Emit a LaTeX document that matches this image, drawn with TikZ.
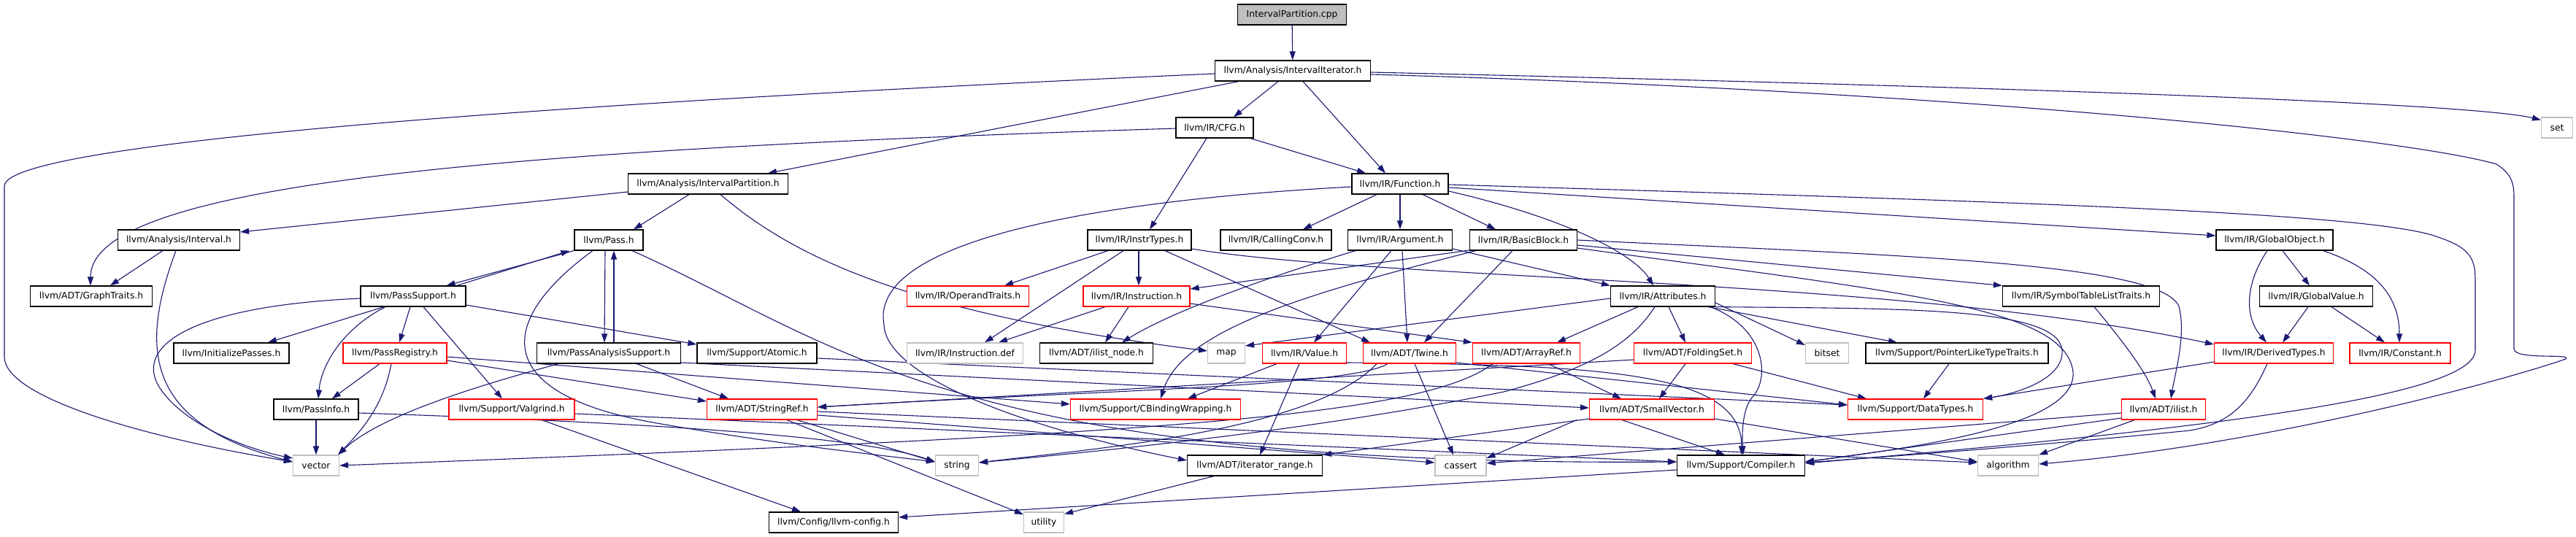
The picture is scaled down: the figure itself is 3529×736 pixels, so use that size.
\documentclass[tikz,border=0pt]{standalone}
\usepackage{fontspec}
\setmainfont{DejaVu Sans}
\usetikzlibrary{arrows.meta,calc}
\definecolor{eblue}{HTML}{191970}
\definecolor{gsev}{HTML}{BFBFBF}
\pgfdeclarelayer{bg}
\pgfsetlayers{bg,main}
\begin{document}
\begin{tikzpicture}[x=1pt,y=-1pt,
 box/.style={draw=black,line width=1.2pt,fill=white,minimum height=28pt,inner sep=0pt,font=\fontsize{12.3}{14}\selectfont},
 rbox/.style={box,draw=red},
 gbox/.style={box,draw=gsev},
 rootbox/.style={box,fill=gsev},
 e/.style={draw=eblue,line width=1.1pt,-{Triangle[length=12pt,width=8pt]}}]
\useasboundingbox (0,0) rectangle (3529,736);
% nodes
\node[rootbox,minimum width=149pt] (cpp) at (1770,20) {IntervalPartition.cpp};
\node[box,minimum width=213pt] (II) at (1771,97) {llvm/Analysis/IntervalIterator.h};
\node[gbox,minimum width=43pt] (set) at (3503,175) {set};
\node[box,minimum width=106pt] (CFG) at (1664,175) {llvm/IR/CFG.h};
\node[box,minimum width=219pt] (IP) at (970,252) {llvm/Analysis/IntervalPartition.h};
\node[box,minimum width=132pt] (Func) at (1918,252) {llvm/IR/Function.h};
\node[box,minimum width=167pt] (Interval) at (245,329) {llvm/Analysis/Interval.h};
\node[box,minimum width=94pt] (Pass) at (834,329) {llvm/Pass.h};
\node[box,minimum width=142pt] (InstrTypes) at (1561,329) {llvm/IR/InstrTypes.h};
\node[box,minimum width=152pt] (CallingConv) at (1748,329) {llvm/IR/CallingConv.h};
\node[box,minimum width=143pt] (Argument) at (1918,329) {llvm/IR/Argument.h};
\node[box,minimum width=147pt] (BasicBlock) at (2087,329) {llvm/IR/BasicBlock.h};
\node[box,minimum width=160pt] (GlobalObject) at (3116,329) {llvm/IR/GlobalObject.h};
\node[box,minimum width=167pt] (GraphTraits) at (125,406) {llvm/ADT/GraphTraits.h};
\node[box,minimum width=144pt] (PassSupport) at (566,406) {llvm/PassSupport.h};
\node[rbox,minimum width=167pt] (OperandTraits) at (1326,406) {llvm/IR/OperandTraits.h};
\node[rbox,minimum width=146pt] (Instruction) at (1557,406) {llvm/IR/Instruction.h};
\node[box,minimum width=143pt] (Attributes) at (2278,406) {llvm/IR/Attributes.h};
\node[box,minimum width=215pt] (SymTab) at (2851,406) {llvm/IR/SymbolTableListTraits.h};
\node[box,minimum width=155pt] (GlobalValue) at (3173,406) {llvm/IR/GlobalValue.h};
\node[box,minimum width=158pt] (InitPasses) at (317,484) {llvm/InitializePasses.h};
\node[rbox,minimum width=142pt] (PassRegistry) at (541,484) {llvm/PassRegistry.h};
\node[box,minimum width=197pt] (PAS) at (834,484) {llvm/PassAnalysisSupport.h};
\node[box,minimum width=164pt] (Atomic) at (1037,484) {llvm/Support/Atomic.h};
\node[gbox,minimum width=159pt] (InstrDef) at (1322,484) {llvm/IR/Instruction.def};
\node[box,minimum width=155pt] (ilistnode) at (1502,484) {llvm/ADT/ilist\_node.h};
\node[gbox,minimum width=51pt] (map) at (1680,484) {map};
\node[rbox,minimum width=115pt] (Value) at (1787,484) {llvm/IR/Value.h};
\node[rbox,minimum width=127pt] (Twine) at (1931,484) {llvm/ADT/Twine.h};
\node[rbox,minimum width=147pt] (ArrayRef) at (2091,484) {llvm/ADT/ArrayRef.h};
\node[rbox,minimum width=161pt] (FoldingSet) at (2319,484) {llvm/ADT/FoldingSet.h};
\node[gbox,minimum width=59pt] (bitset) at (2503,484) {bitset};
\node[box,minimum width=250pt] (PLTT) at (2681,484) {llvm/Support/PointerLikeTypeTraits.h};
\node[rbox,minimum width=163pt] (DerivedTypes) at (3115,484) {llvm/IR/DerivedTypes.h};
\node[rbox,minimum width=138pt] (Constant) at (3288,484) {llvm/IR/Constant.h};
\node[box,minimum width=116pt] (PassInfo) at (433,561) {llvm/PassInfo.h};
\node[rbox,minimum width=172pt] (Valgrind) at (701,561) {llvm/Support/Valgrind.h};
\node[rbox,minimum width=151pt] (StringRef) at (1044,561) {llvm/ADT/StringRef.h};
\node[rbox,minimum width=233pt] (CBW) at (1583,561) {llvm/Support/CBindingWrapping.h};
\node[rbox,minimum width=171pt] (SmallVector) at (2263,561) {llvm/ADT/SmallVector.h};
\node[rbox,minimum width=185pt] (DataTypes) at (2624,561) {llvm/Support/DataTypes.h};
\node[rbox,minimum width=115pt] (ilist) at (2964,561) {llvm/ADT/ilist.h};
\node[gbox,minimum width=63pt] (vector) at (433,638) {vector};
\node[gbox,minimum width=59pt] (string) at (1311,638) {string};
\node[box,minimum width=185pt] (itrange) at (1719,638) {llvm/ADT/iterator\_range.h};
\node[gbox,minimum width=70pt] (cassert) at (2001,638) {cassert};
\node[box,minimum width=175pt] (Compiler) at (2385,638) {llvm/Support/Compiler.h};
\node[gbox,minimum width=83pt] (algorithm) at (2751,638) {algorithm};
\node[box,minimum width=177pt] (config) at (1142,716) {llvm/Config/llvm-config.h};
\node[gbox,minimum width=55pt] (utility) at (1430,716) {utility};
% edges
\begin{pgfonlayer}{bg}
\draw[e] (cpp) -- (II);
\draw[e] ($(II.south)+(-74,0)$) -- ($(IP.north)+(82,0)$);
\draw[e] ($(II.south)+(-20,0)$) -- ($(CFG.north)+(26,0)$);
\draw[e] ($(II.south)+(14,0)$) -- ($(Func.north)+(-20,0)$);
\draw[e] ($(II.east)+(0,2)$) .. controls (2700,118) and (3380,140) .. ($(set.north west)+(0,4)$);
\draw[e] ($(II.west)+(0,4)$) .. controls (900,135) and (6,190) .. (6,255) -- (6,489) .. controls (6,545) and (200,600) .. ($(vector.west)+(0,-5)$);
\draw[e] ($(II.east)+(0,5)$) .. controls (2700,125) and (3300,190) .. (3420,225) .. controls (3440,238) and (3444,250) .. (3444,270) -- (3444,478) .. controls (3444,494) and (3525,484) .. (3515,492) .. controls (3420,525) and (3100,610) .. ($(algorithm.east)+(0,-2)$);
\draw[e] ($(IP.west)+(0,11)$) -- ($(Interval.east)+(0,-11)$);
\draw[e] ($(IP.south)+(-26,0)$) -- ($(Pass.north)+(34,0)$);
\draw[e] ($(IP.south)+(17,0)$) .. controls (1090,355) and (1250,430) .. ($(map.west)+(0,-3)$);
\draw[e] ($(CFG.west)+(0,1)$) .. controls (700,205) and (124,250) .. ($(GraphTraits.north)+(-1,0)$);
\draw[e] ($(CFG.south)+(49,0)$) -- ($(Func.north)+(-47,0)$);
\draw[e] ($(CFG.south)+(-11,0)$) -- ($(InstrTypes.north)+(14,0)$);
\draw[e] ($(Interval.south)+(-22,0)$) -- ($(GraphTraits.north)+(26,0)$);
\draw[e] ($(Interval.south)+(-4,0)$) .. controls (190,480) and (200,580) .. ($(vector.west)+(0,-5)$);
\draw[e] ($(Func.south)+(-32,0)$) -- ($(CallingConv.north)+(37,0)$);
\draw[e] (Func.south) -- (Argument.north);
\draw[e] ($(Func.south)+(31,0)$) -- ($(BasicBlock.north)+(-38,0)$);
\draw[e] ($(Func.east)+(0,10)$) .. controls (2150,300) and (2240,350) .. ($(Attributes.north)+(-13,0)$);
\draw[e] ($(Func.east)+(0,5)$) -- ($(GlobalObject.west)+(0,-6)$);
\draw[e] ($(Func.east)+(0,1)$) .. controls (2700,275) and (3250,290) .. (3340,325) .. controls (3385,340) and (3391,355) .. (3391,385) -- (3391,480) .. controls (3391,545) and (3000,590) .. ($(Compiler.east)+(0,-3)$);
\draw[e] ($(Func.west)+(0,4)$) .. controls (1500,275) and (1190,330) .. (1211,445) .. controls (1214,520) and (1420,590) .. ($(itrange.west)+(0,-7)$);
\draw[e] (Pass.south west) -- ($(PassSupport.north east)+(-27,0)$);
\draw[e] ($(PassSupport.north east)+(-13,0)$) -- ($(Pass.south west)+(-6,0)$);
\draw[e] ($(Pass.south)+(-5,0)$) -- ($(PAS.north)+(-6,0)$);
\draw[e] ($(PAS.north)+(7,0)$) -- ($(Pass.south)+(7,0)$);
\draw[e] ($(Pass.south)+(-22,0)$) .. controls (680,440) and (670,540) .. (900,580) .. controls (1060,608) and (1190,622) .. ($(string.west)+(0,-5)$);
\draw[e] ($(Pass.south)+(32,0)$) .. controls (1150,470) and (1300,640) .. ($(Compiler.west)+(0,-5)$);
\draw[e] ($(PassSupport.west)+(0,3)$) .. controls (250,420) and (175,480) .. (225,540) .. controls (265,590) and (350,618) .. ($(vector.west)+(0,-10)$);
\draw[e] ($(PassSupport.south)+(-40,0)$) -- ($(InitPasses.north)+(50,0)$);
\draw[e] ($(PassSupport.south)+(-38,0)$) .. controls (470,450) and (440,500) .. ($(PassInfo.north)+(3,0)$);
\draw[e] ($(PassSupport.south)+(-4,0)$) -- ($(PassRegistry.north)+(6,0)$);
\draw[e] ($(PassSupport.east)+(0,12)$) -- ($(Atomic.west)+(0,-12)$);
\draw[e] ($(PassSupport.south)+(14,0)$) -- ($(Valgrind.north)+(-13,0)$);
\draw[e] ($(PassRegistry.south)+(-21,0)$) -- ($(PassInfo.north)+(22,0)$);
\draw[e] ($(PassRegistry.south)+(-5,0)$) .. controls (525,560) and (490,595) .. ($(vector.north east)+(-2,0)$);
\draw[e] ($(PassRegistry.east)+(0,10)$) -- ($(StringRef.west)+(0,-11)$);
\draw[e] ($(PassRegistry.east)+(0,5)$) -- ($(CBW.west)+(0,-7)$);
\draw[e] (PassInfo.south) -- (vector.north);
\draw[e] ($(PassInfo.east)+(0,5)$) .. controls (900,580) and (1180,598) .. ($(string.west)+(0,-5)$);
\draw[e] ($(PAS.south)+(-69,0)$) .. controls (650,530) and (520,570) .. ($(vector.north east)+(-2,0)$);
\draw[e] ($(PAS.south)+(38,0)$) -- ($(StringRef.north)+(-46,0)$);
\draw[e] ($(PAS.east)+(0,13)$) -- ($(SmallVector.west)+(0,-2)$);
\draw[e] ($(Atomic.east)+(0,7)$) -- ($(DataTypes.west)+(0,-6)$);
\draw[e] ($(Valgrind.south)+(41,0)$) -- ($(config.north)+(-45,0)$);
\draw[e] ($(Valgrind.east)+(0,6)$) -- ($(Compiler.west)+(0,-5)$);
\draw[e] ($(StringRef.south)+(48,0)$) -- ($(string.west)+(0,-5)$);
\draw[e] ($(StringRef.south)+(34,0)$) -- ($(utility.west)+(0,-11)$);
\draw[e] ($(StringRef.east)+(0,8)$) -- ($(cassert.west)+(0,-4)$);
\draw[e] ($(StringRef.east)+(0,3)$) -- ($(algorithm.west)+(0,-4)$);
\draw[e] ($(Twine.south)+(7,0)$) -- ($(cassert.north)+(-10,0)$);
\draw[e] ($(Twine.south)+(-30,0)$) .. controls (1850,530) and (1500,535) .. ($(StringRef.east)+(0,-3)$);
\draw[e] ($(Twine.south)+(-45,0)$) .. controls (1800,590) and (1500,615) .. ($(string.east)+(0,-4)$);
\draw[e] ($(Twine.east)+(0,13)$) -- ($(DataTypes.west)+(0,-6)$);
\draw[e] ($(Value.south)+(-38,0)$) -- ($(CBW.north)+(44,0)$);
\draw[e] ($(Value.south)+(-7,0)$) -- ($(itrange.north)+(7,0)$);
\draw[e] ($(Value.east)+(0,13)$) .. controls (2200,500) and (2386,510) .. ($(Compiler.north)+(1,0)$);
\draw[e] ($(ArrayRef.south)+(30,0)$) -- ($(SmallVector.north)+(-42,0)$);
\draw[e] ($(ArrayRef.south)+(-46,0)$) .. controls (1950,570) and (1600,595) .. (vector.east);
\draw[e] ($(FoldingSet.south)+(-10,0)$) -- ($(SmallVector.north)+(10,0)$);
\draw[e] ($(FoldingSet.west)+(0,9)$) -- ($(StringRef.east)+(0,-3)$);
\draw[e] ($(FoldingSet.south)+(55,0)$) -- ($(DataTypes.north)+(-67,0)$);
\draw[e] ($(Attributes.south)+(-34,0)$) -- ($(ArrayRef.north)+(42,0)$);
\draw[e] ($(Attributes.south)+(8,0)$) -- ($(FoldingSet.north)+(-10,0)$);
\draw[e] ($(Attributes.west)+(0,3)$) -- ($(map.east)+(0,-10)$);
\draw[e] ($(Attributes.south)+(-11,0)$) .. controls (2235,470) and (2180,505) .. (2060,537) .. controls (1850,580) and (1600,610) .. ($(string.east)+(0,-4)$);
\draw[e] ($(Attributes.east)+(0,9)$) -- ($(bitset.west)+(0,-11)$);
\draw[e] ($(Attributes.south)+(62,0)$) -- ($(PLTT.north)+(-82,0)$);
\draw[e] (Attributes.south east) .. controls (2600,423) and (2820,420) .. (2825,480) .. controls (2828,520) and (2760,540) .. (DataTypes.north east);
\draw[e] ($(Attributes.south east)+(-7,0)$) .. controls (2420,450) and (2425,520) .. (2400,545) .. controls (2388,560) and (2386,590) .. ($(Compiler.north)+(3,0)$);
\draw[e] ($(SmallVector.south)+(-103,0)$) -- ($(cassert.east)+(0,-10)$);
\draw[e] ($(SmallVector.south)+(-41,0)$) -- ($(Compiler.north)+(-22,0)$);
\draw[e] ($(SmallVector.east)+(0,13)$) -- ($(algorithm.west)+(0,-5)$);
\draw[e] ($(SmallVector.west)+(0,13)$) -- (itrange.north east);
\draw[e] ($(PLTT.south)+(-11,0)$) -- ($(DataTypes.north)+(11,0)$);
\draw[e] ($(SymTab.south)+(18,0)$) .. controls (2910,470) and (2940,510) .. ($(ilist.north)+(-11,0)$);
\draw[e] (BasicBlock.east) .. controls (2600,350) and (2960,360) .. (2985,420) .. controls (2995,460) and (2980,510) .. ($(ilist.north)+(10,0)$);
\draw[e] ($(BasicBlock.east)+(0,7)$) -- (SymTab.north west);
\draw[e] ($(BasicBlock.east)+(0,11)$) .. controls (2600,400) and (2830,420) .. (2840,510) .. controls (2845,580) and (2650,610) .. ($(Compiler.east)+(0,-5)$);
\draw[e] ($(BasicBlock.west)+(0,14)$) -- ($(Instruction.east)+(0,-10)$);
\draw[e] ($(BasicBlock.south west)+(9,0)$) .. controls (1800,400) and (1620,450) .. ($(CBW.north)+(7,0)$);
\draw[e] ($(BasicBlock.south)+(-15,0)$) -- ($(Twine.north)+(20,0)$);
\draw[e] ($(Argument.south)+(3,0)$) -- ($(Twine.north)+(-3,0)$);
\draw[e] ($(Argument.south)+(-12,0)$) -- ($(Value.north)+(13,0)$);
\draw[e] ($(Argument.south)+(-61,0)$) .. controls (1720,385) and (1600,430) .. ($(ilistnode.north)+(35,0)$);
\draw[e] ($(Argument.east)+(0,12)$) -- (Attributes.north west);
\draw[e] ($(InstrTypes.south)+(-43,0)$) -- ($(OperandTraits.north)+(50,0)$);
\draw[e] ($(InstrTypes.south)+(-22,0)$) -- ($(InstrDef.north)+(27,0)$);
\draw[e] ($(InstrTypes.south)+(-1,0)$) -- ($(Instruction.north)+(3,0)$);
\draw[e] ($(InstrTypes.south)+(35,0)$) -- ($(Twine.north)+(-54,0)$);
\draw[e] ($(InstrTypes.east)+(0,12)$) .. controls (1900,385) and (2600,380) .. ($(DerivedTypes.west)+(0,-12)$);
\draw[e] ($(Instruction.south)+(-43,0)$) -- ($(InstrDef.north)+(46,0)$);
\draw[e] ($(Instruction.south)+(-11,0)$) -- ($(ilistnode.north)+(12,0)$);
\draw[e] ($(Instruction.east)+(0,10)$) -- (ArrayRef.north west);
\draw[e] ($(GlobalObject.south)+(11,0)$) -- ($(GlobalValue.north)+(-9,0)$);
\draw[e] ($(GlobalObject.south)+(-10,0)$) .. controls (3075,390) and (3075,435) .. ($(DerivedTypes.north)+(-10,0)$);
\draw[e] ($(GlobalObject.south east)+(-14,0)$) .. controls (3260,370) and (3287,410) .. ($(Constant.north)+(-1,0)$);
\draw[e] ($(GlobalValue.south)+(-11,0)$) -- ($(DerivedTypes.north)+(12,0)$);
\draw[e] ($(GlobalValue.south)+(21,0)$) -- ($(Constant.north)+(-21,0)$);
\draw[e] ($(DerivedTypes.west)+(0,12)$) -- (DataTypes.north east);
\draw[e] ($(DerivedTypes.south)+(-9,0)$) .. controls (3085,545) and (3060,580) .. (3000,590) .. controls (2800,610) and (2600,625) .. ($(Compiler.east)+(0,-4)$);
\draw[e] ($(ilist.south)+(-40,0)$) -- (algorithm.north east);
\draw[e] ($(ilist.west)+(0,5)$) -- ($(cassert.east)+(0,-3)$);
\draw[e] ($(ilist.west)+(0,12)$) -- ($(Compiler.east)+(0,-5)$);
\draw[e] ($(itrange.south)+(-56,0)$) -- ($(utility.north east)+(0,3)$);
\draw[e] ($(Compiler.west)+(0,6)$) -- ($(config.east)+(0,-7)$);
\end{pgfonlayer}
\end{tikzpicture}
\end{document}
